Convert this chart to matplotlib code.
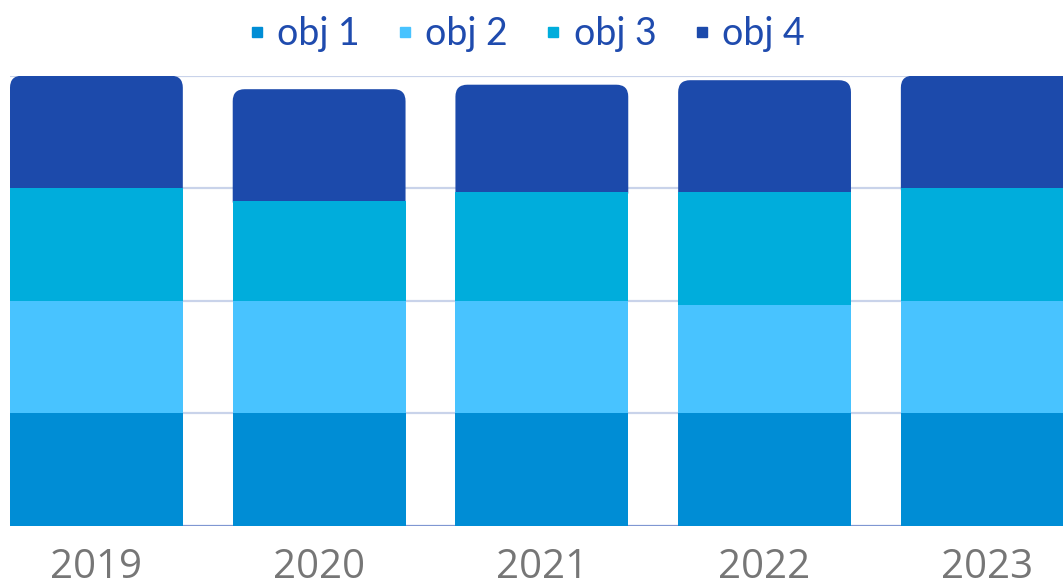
import numpy as np
import matplotlib
matplotlib.use("Agg")
import matplotlib.pyplot as plt
from matplotlib.path import Path
from matplotlib.patches import PathPatch
from matplotlib.lines import Line2D

years = ["2019", "2020", "2021", "2022", "2023"]
series_names = ["obj 1", "obj 2", "obj 3", "obj 4"]
obj1 = [1.00, 1.00, 1.00, 1.00, 1.00]
obj2 = [1.00, 1.00, 1.00, 0.96, 1.00]
obj3 = [1.00, 0.89, 0.97, 1.01, 1.00]
obj4 = [1.00, 0.99, 0.95, 0.99, 1.00]

colors = ["#008dd5", "#48c3ff", "#00addc", "#1c4aab"]
text_blue = "#1f4bae"
grid_color = "#c9d3ea"
base_color = "#7f97d2"

W, H, DPI = 1063, 584, 100
BAR_W = 0.776


def round_top(ax, rect, r_px):
    """Swap a bar rectangle for a path with rounded top corners"""
    x0, y0 = rect.get_x(), rect.get_y()
    x1, y1 = x0 + rect.get_width(), y0 + rect.get_height()
    # pixels -> data units along each axis
    p0 = ax.transData.transform((0, 0))
    p1 = ax.transData.transform((1, 1))
    rx = r_px / (p1[0] - p0[0])
    ry = r_px / (p1[1] - p0[1])
    # tuck the bottom edge under the segment below to avoid a seam
    y0 -= 2 * ry / r_px
    verts = [(x0, y0), (x0, y1 - ry), (x0, y1), (x0 + rx, y1),
             (x1 - rx, y1), (x1, y1), (x1, y1 - ry), (x1, y0), (x0, y0)]
    codes = [Path.MOVETO, Path.LINETO, Path.CURVE3, Path.CURVE3,
             Path.LINETO, Path.CURVE3, Path.CURVE3, Path.LINETO, Path.CLOSEPOLY]
    patch = PathPatch(Path(verts, codes), facecolor=rect.get_facecolor(),
                      edgecolor="none", zorder=rect.get_zorder() - 0.5)
    rect.remove()
    ax.add_patch(patch)


fig = plt.figure(figsize=(W / DPI, H / DPI), dpi=DPI)
ax = fig.add_axes([10 / W, (H - 525.7) / H, 1 - 10 / W, 450 / H])

x = np.arange(len(years))
data = [obj1, obj2, obj3, obj4]
bottom = np.zeros(len(years))
containers = []
for vals, c in zip(data, colors):
    bc = ax.bar(x, vals, BAR_W, bottom=bottom, color=c, linewidth=0, zorder=3)
    containers.append(bc)
    bottom += np.array(vals)

ax.set_xlim(-BAR_W / 2, 4.34)
ax.set_ylim(0, 4)

# rounded caps on the top segment
for rect in list(containers[-1].patches):
    round_top(ax, rect, 12)

ax.set_yticks([1, 2, 3, 4])
ax.yaxis.grid(True, color=grid_color, linewidth=1.6, zorder=0)
ax.set_axisbelow(True)
ax.axhline(0, color=base_color, linewidth=1.6, zorder=1)

for s in ax.spines.values():
    s.set_visible(False)
ax.tick_params(axis="y", left=False, labelleft=False)
ax.tick_params(axis="x", bottom=False, pad=12)
ax.set_xticks(x)
ax.set_xticklabels(years, fontsize=29, color="#767676", family="Open Sans")

handles = [Line2D([], [], marker="s", linestyle="none", markersize=7.2,
                  markerfacecolor=c, markeredgecolor=c) for c in colors]
fig.legend(handles, series_names, loc="center", bbox_to_anchor=(526 / W, 1 - 34 / H),
           ncol=4, frameon=False, handletextpad=0.3, columnspacing=0.95,
           handlelength=0.5, prop={"family": "Lato", "size": 27},
           labelcolor=text_blue)

fig.savefig("out.png", dpi=DPI)
